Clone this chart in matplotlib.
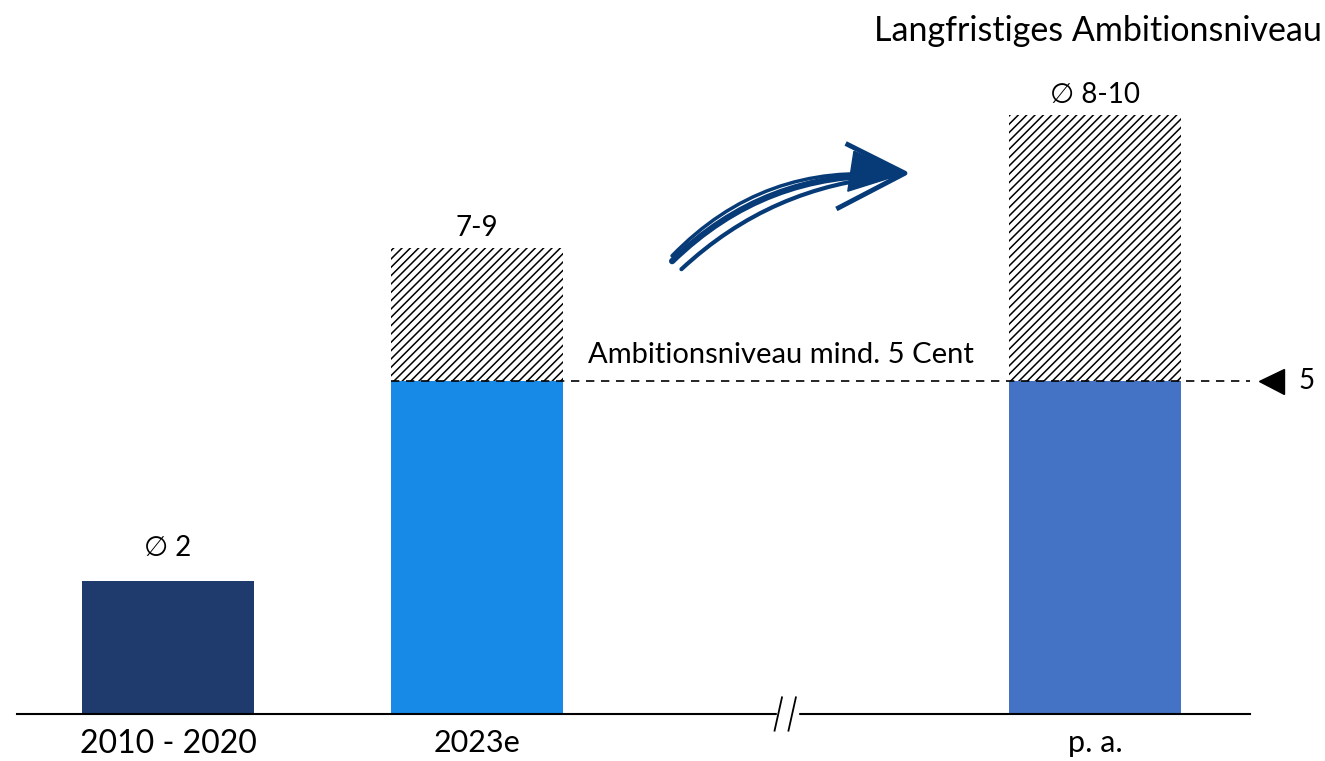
import numpy as np
import matplotlib.pyplot as plt
from matplotlib.patches import FancyArrowPatch

plt.rcParams['font.family'] = ['Lato', 'DejaVu Sans']
plt.rcParams['hatch.linewidth'] = 1.1

# data
cats = ['2010 - 2020', '2023e', 'p. a.']
xpos = [0, 1, 3]
solid = [2, 5, 5]
upper = [2, 7, 9]
labels = ['\u2205 2', '7-9', '\u2205 8-10']
colors = ['#1F3A6D', '#178AE8', '#4472C4']
cat_sizes = [23, 22, 22]
label_pad = [0.3, 0.1, 0.1]
ambition = 5

fig = plt.figure(figsize=(13.25, 7.61), dpi=100)
ax = fig.add_axes([0, 0, 1, 1])
ax.set_xlim(-168 / 309, (1325 - 168) / 309)
ax.set_ylim(-47 / 66.6, 714 / 66.6)
ax.axis('off')

w = 0.557
ax.bar(xpos, solid, width=w, color=colors, zorder=2)
hatch_h = [u - s for u, s in zip(upper, solid)]
ax.bar(xpos, hatch_h, bottom=solid, width=w, color='white', edgecolor='black',
       hatch='////', linewidth=0, zorder=2)

for x, u, lab, p in zip(xpos, upper, labels, label_pad):
    ax.text(x, u + p, lab, ha='center', va='bottom', fontsize=20)

for x, c, s in zip(xpos, cats, cat_sizes):
    ax.text(x, -0.22, c, ha='center', va='top', fontsize=s)

# baseline with break
ax.plot([-0.49, 3.5], [0, 0], color='black', lw=1.5, zorder=3)
ax.fill_between([1.97, 2.04], -0.1, 0.1, color='white', zorder=4)
for bx in [1.975, 2.02]:
    ax.plot([bx - 0.012, bx + 0.012], [-0.25, 0.25], color='black', lw=1.3, zorder=5)

# ambition line
ax.plot([1 - w / 2, 3.5], [ambition, ambition], color='black', lw=1.2,
        ls=(0, (5, 4)), zorder=3)
ax.plot(3.57, ambition, marker='<', color='black', markersize=18, zorder=3)
ax.text(3.66, ambition, str(ambition), ha='left', va='center', fontsize=20)
ax.text(1.36, ambition + 0.2, 'Ambitionsniveau mind. 5 Cent', ha='left', va='bottom',
        fontsize=21)

ax.text(3.735, 10.25, 'Langfristiges Ambitionsniveau', ha='right', va='center',
        fontsize=24.5)

# hand-drawn style arrow
arrow_col = '#063B78'
for dx, dy, rad, lw in [(0, 0, -0.22, 4.5), (0.03, -0.12, -0.18, 3), (0.0, 0.08, -0.25, 2.5)]:
    ax.add_patch(FancyArrowPatch((1.625 + dx, 6.77 + dy), (2.36, 8.08),
                                 connectionstyle=f'arc3,rad={rad}', arrowstyle='-',
                                 color=arrow_col, lw=lw, zorder=3))
head = np.array([[2.2, 8.55], [2.385, 8.12], [2.17, 7.6]])
ax.plot(head[:, 0], head[:, 1], color=arrow_col, lw=3.5, solid_joinstyle='round', zorder=3)
ax.fill([2.22, 2.385, 2.2], [8.45, 8.12, 7.85], color=arrow_col, zorder=3)

fig.savefig('out.png', dpi=100)
